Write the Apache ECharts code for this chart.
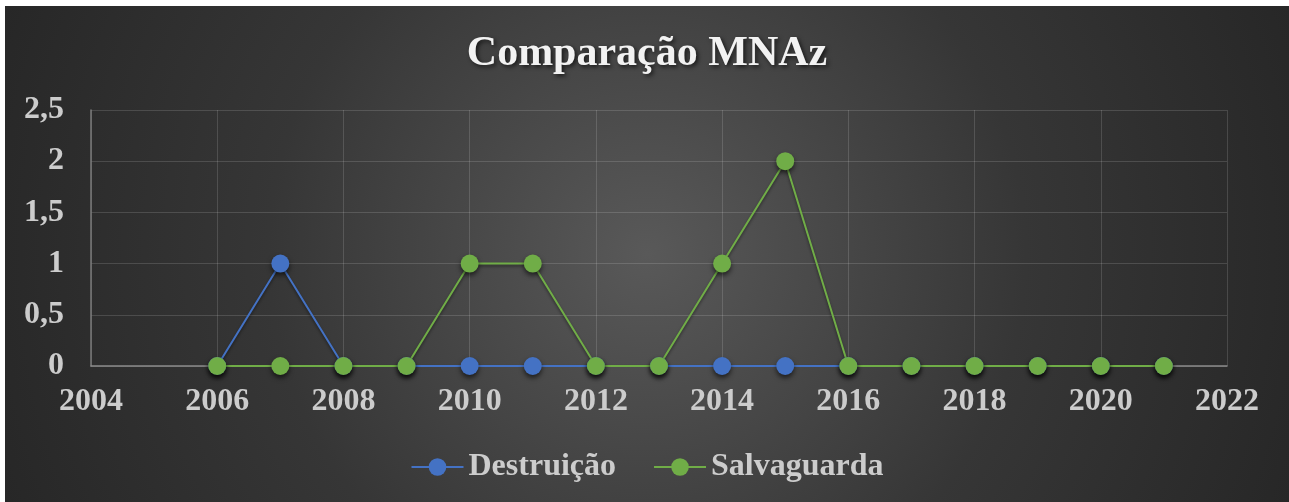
<!DOCTYPE html>
<html>
<head>
<meta charset="utf-8">
<script src="https://cdn.jsdelivr.net/npm/echarts@6/dist/echarts.min.js"></script>
<style>
html,body{margin:0;padding:0;background:#ffffff;width:1289px;height:502px;overflow:hidden;}
#chart{position:absolute;left:5px;top:6px;width:1284px;height:496px;
background:radial-gradient(circle farthest-corner at 50% 50%, #595959 0%, #494949 25%, #363636 55%, #272727 100%);}
</style>
</head>
<body>
<div id="chart"></div>
<script>
const titleText = 'Comparação MNAz';
const seriesNames = ['Destruição', 'Salvaguarda'];
const years = [2006, 2007, 2008, 2009, 2010, 2011, 2012, 2013, 2014, 2015, 2016, 2017, 2018, 2019, 2020, 2021];
const destruicao = [0, 1, 0, 0, 0, 0, 0, 0, 0, 0, 0, 0, 0, 0, 0, 0];
const salvaguarda = [0, 0, 0, 0, 1, 1, 0, 0, 1, 2, 0, 0, 0, 0, 0, 0];

const FONT = "'Liberation Serif', 'Times New Roman', serif";
const LABEL = '#cccccc';
const BLUE = '#4472c4';
const GREEN = '#70ad47';

const chart = echarts.init(document.getElementById('chart'), null, {renderer: 'canvas'});

function mkSeries(name, vals, color) {
  return {
    name: name,
    type: 'line',
    data: years.map((y, i) => [y, vals[i]]),
    symbol: 'circle',
    symbolSize: 18,
    showSymbol: true,
    lineStyle: {color: color, width: 2, shadowColor: 'rgba(0,0,0,0.45)', shadowBlur: 3, shadowOffsetY: 2},
    itemStyle: {color: color, borderWidth: 0, shadowColor: 'rgba(0,0,0,0.6)', shadowBlur: 5, shadowOffsetY: 3},
    emphasis: {disabled: true},
    animation: false,
    z: 2
  };
}

chart.setOption({
  backgroundColor: 'transparent',
  animation: false,
  title: {
    text: titleText,
    left: 'center',
    top: 22,
    textStyle: {
      fontFamily: FONT, fontWeight: 'bold', fontSize: 42, color: '#f2f2f2',
      textShadowColor: 'rgba(0,0,0,0.65)', textShadowBlur: 4, textShadowOffsetX: 2, textShadowOffsetY: 2
    }
  },
  legend: {
    left: 'center',
    top: 440,
    itemWidth: 52,
    itemHeight: 22,
    itemGap: 37,
    data: seriesNames,
    textStyle: {fontFamily: FONT, fontWeight: 'bold', fontSize: 32, color: LABEL, lineHeight: 32}
  },
  grid: {left: 86, right: 62, top: 104, bottom: 136, containLabel: false},
  xAxis: {
    type: 'value',
    min: 2004,
    max: 2022,
    interval: 2,
    axisLine: {show: true, lineStyle: {color: '#8a8a8a', width: 1.5}},
    axisTick: {show: false},
    splitLine: {show: true, lineStyle: {color: 'rgba(255,255,255,0.14)', width: 1}},
    axisLabel: {
      margin: 20,
      fontFamily: FONT, fontWeight: 'bold', fontSize: 32, color: LABEL,
      formatter: v => String(v)
    }
  },
  yAxis: {
    type: 'value',
    min: 0,
    max: 2.5,
    interval: 0.5,
    axisLine: {show: true, lineStyle: {color: '#7a7a7a', width: 1.5}},
    axisTick: {show: false},
    splitLine: {show: true, lineStyle: {color: 'rgba(255,255,255,0.14)', width: 1}},
    axisLabel: {
      margin: 27,
      fontFamily: FONT, fontWeight: 'bold', fontSize: 32, color: LABEL,
      formatter: v => String(v).replace('.', ',')
    }
  },
  series: [
    mkSeries(seriesNames[0], destruicao, BLUE),
    mkSeries(seriesNames[1], salvaguarda, GREEN)
  ]
});
</script>
</body>
</html>
